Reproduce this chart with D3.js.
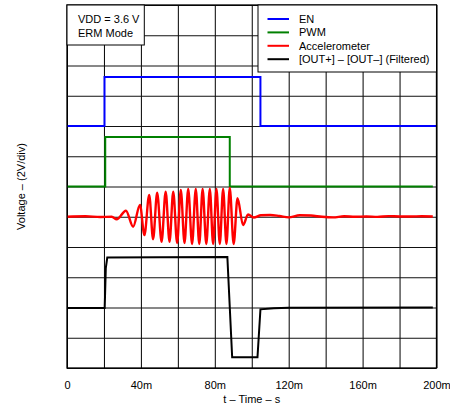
<!DOCTYPE html>
<html><head><meta charset="utf-8">
<script src="https://cdn.jsdelivr.net/npm/d3@7"></script>
<style>
body{margin:0;background:#fff;}
text{font-family:"Liberation Sans",Arial,sans-serif;}
</style></head>
<body><svg id="c" width="450" height="406"></svg>
<script>
// time in ms, voltage in display volts (2 V/div, 12 divisions)
const xTickLabels = [0, 40, 80, 120, 160, 200];
const xGridTicks = [0,20,40,60,80,100,120,140,160,180,200];
const yGridTicks = [0,2,4,6,8,10,12,14,16,18,20,22,24];
const seriesNames = ["EN", "PWM", "Accelerometer", "[OUT+] – [OUT–] (Filtered)"];
const seriesColors = ["#0000ff", "#008000", "#ff0000", "#000000"];
const enData = [[0,16],[20.3,16],[20.3,19.24],[104.7,19.24],[104.7,16],[200,16]];
const pwmData = [[0,12],[20.7,12],[20.7,15.27],[88.1,15.27],[88.1,12],[198,12]];
const accelData = [[0,10],[10,10.03],[18,9.98],[24.2,10],[26.9,9.83],[31.9,10.4],[35.8,9.34],[39.5,10.78],[41.9,8.79],[44.5,11.44],[46.6,8.51],[48.8,11.59],[51.2,8.35],[53.4,11.66],[55.5,8.35],[57.5,11.66],[59.6,8.26],[61.6,11.77],[63.6,8.26],[65.6,11.83],[67.7,8.2],[69.7,11.83],[71.6,8.2],[73.4,11.83],[75.4,8.2],[77.3,11.83],[79.1,8.2],[80.9,11.83],[82.7,8.2],[84.5,11.83],[86.3,8.2],[88.1,11.9],[90.2,8.2],[92.3,11.22],[95.3,9.45],[98.0,10.15],[101.1,9.95],[105,10.1],[110,10.12],[115,10.05],[120,9.96],[126,10.1],[132,10.08],[138,10.0],[144,9.96],[150,10.03],[156,10.0],[162,10.02],[168,9.99],[174,10.04],[180,10.02],[186,10.02],[192,10.03],[198,10.02]];
const outData = [[0,3.96],[20.4,3.96],[21.0,6.6],[21.8,7.3],[50,7.33],[86.8,7.34],[89.4,0.71],[103.1,0.71],[104.7,3.88],[112,3.95],[120,3.99],[198,4.0]];

const svg = d3.select("#c");
const L = 67, R = 436.5, T = 5, B = 368;
const x = d3.scaleLinear().domain([0,200]).range([L,R]);
const y = d3.scaleLinear().domain([0,24]).range([B,T]);

// grid
svg.append("g").attr("transform",`translate(0,${B})`)
  .call(d3.axisBottom(x).tickValues(xGridTicks).tickSize(-(B-T)).tickFormat(""))
  .call(g=>{g.select(".domain").remove();g.selectAll("line").attr("stroke","#000").attr("stroke-width",1);});
svg.append("g").attr("transform",`translate(${L},0)`)
  .call(d3.axisLeft(y).tickValues(yGridTicks).tickSize(-(R-L)).tickFormat(""))
  .call(g=>{g.select(".domain").remove();g.selectAll("line").attr("stroke","#111").attr("stroke-width",1);});

// x labels
svg.append("g").attr("transform",`translate(0,${B})`)
  .call(d3.axisBottom(x).tickValues(xTickLabels).tickSize(0).tickPadding(13)
    .tickFormat(d=>d===0?"0":d+"m"))
  .call(g=>{g.select(".domain").remove();g.selectAll("text").attr("font-size",11).attr("fill","#000").attr("font-family","Liberation Sans, Arial, sans-serif");});

svg.append("defs").append("clipPath").attr("id","clip")
  .append("rect").attr("x",L).attr("y",T).attr("width",R-L).attr("height",B-T);

const lin = d3.line().x(d=>x(d[0])).y(d=>y(d[1]));
const smooth = d3.line().x(d=>x(d[0])).y(d=>y(d[1])).curve(d3.curveMonotoneX);
const traces = svg.append("g").attr("clip-path","url(#clip)");
traces.append("path").datum(pwmData).attr("d",lin).attr("fill","none").attr("stroke",seriesColors[1]).attr("stroke-width",2);
traces.append("path").datum(enData).attr("d",lin).attr("fill","none").attr("stroke",seriesColors[0]).attr("stroke-width",2);
traces.append("path").datum(outData).attr("d",lin).attr("fill","none").attr("stroke",seriesColors[3]).attr("stroke-width",2);
traces.append("path").datum(accelData).attr("d",smooth).attr("fill","none").attr("stroke",seriesColors[2]).attr("stroke-width",2.4);

// frame
svg.append("rect").attr("x",L).attr("y",T).attr("width",R-L).attr("height",B-T)
  .attr("fill","none").attr("stroke","#000").attr("stroke-width",1.3);

// annotation box
svg.append("rect").attr("x",L).attr("y",T).attr("width",77.3).attr("height",40)
  .attr("fill","#fff").attr("stroke","#000").attr("stroke-width",1);
svg.append("text").attr("x",78).attr("y",23).attr("font-size",11).text("VDD = 3.6 V");
svg.append("text").attr("x",78).attr("y",36.5).attr("font-size",11).text("ERM Mode");

// legend
const lg = svg.append("g");
lg.append("rect").attr("x",258).attr("y",T).attr("width",R-258).attr("height",67)
  .attr("fill","#fff").attr("stroke","#000").attr("stroke-width",1);
seriesNames.forEach((n,i)=>{
  const yy = 19 + i*13.4;
  lg.append("line").attr("x1",267.5).attr("x2",289).attr("y1",yy).attr("y2",yy)
    .attr("stroke",seriesColors[i]).attr("stroke-width",2);
  lg.append("text").attr("x",299).attr("y",yy+4).attr("font-size",11).text(n);
});

// axis titles
svg.append("text").attr("x",(L+R)/2).attr("y",403).attr("text-anchor","middle").attr("font-size",11).text("t – Time – s");
svg.append("text").attr("transform",`translate(25,${(T+B)/2}) rotate(-90)`).attr("text-anchor","middle").attr("font-size",11).text("Voltage – (2V/div)");
</script></body></html>
